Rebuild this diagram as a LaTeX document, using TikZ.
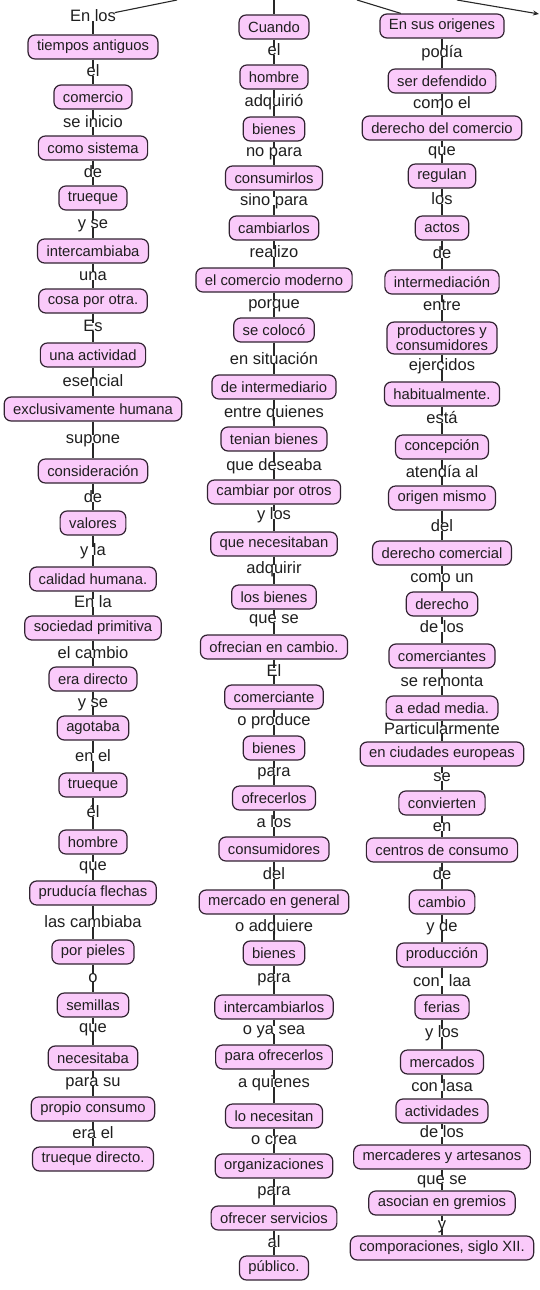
\documentclass[tikz,border=0pt]{standalone}
\usepackage{fontspec}
\setmainfont{Liberation Sans}
\usetikzlibrary{backgrounds,arrows.meta}
\definecolor{cpink}{RGB}{250,202,250}
\definecolor{cedge}{RGB}{50,35,50}
\definecolor{cline}{RGB}{40,40,40}
\newcommand\mkcolumn[3]{%
  \foreach \y/\k/\t [count=\i] in {#3} {%
    \node[\k] (#1\i) at (#2,\y) {\t};
    \ifnum\i>1
      \pgfmathtruncatemacro\p{\i-1}
      \begin{pgfonlayer}{background}
        \draw[conn] (#1\p) -- (#1\i);
      \end{pgfonlayer}
    \fi
  }}
\begin{document}
\begin{tikzpicture}[x=1pt,y=-1pt,
  every node/.style={text=black!88},
  cbox/.style={draw=cedge, fill=cpink, rounded corners=7pt, line width=1.2pt,
    font=\fontsize{14.8}{15}\selectfont,
    inner xsep=9pt, inner ysep=3pt, minimum height=24pt, align=center},
  clab/.style={inner sep=0pt, text height=8.4pt, text depth=0pt,
    font=\fontsize{16.5}{17}\selectfont},
  conn/.style={draw=cline, line width=1.1pt}]
\useasboundingbox (0,0) rectangle (540,1290);
\begin{pgfonlayer}{background}
  \fill[white] (0,0) rectangle (540,1290);
\end{pgfonlayer}
% column 1
\mkcolumn{a}{93}{17/clab/En los, 47/cbox/tiempos antiguos, 72/clab/el, 97/cbox/comercio,
 123/clab/se inicio, 148/cbox/como sistema, 173/clab/de, 198/cbox/trueque, 224/clab/y se,
 251/cbox/intercambiaba, 276/clab/una, 301/cbox/cosa por otra., 327/clab/Es,
 355/cbox/una actividad, 382/clab/esencial, 409/cbox/exclusivamente humana, 439/clab/supone,
 471/cbox/consideración, 498/clab/de, 523/cbox/valores, 551/clab/y la, 579/cbox/calidad humana.,
 603/clab/En la, 628/cbox/sociedad primitiva, 654/clab/el cambio, 679/cbox/era directo,
 703/clab/y se, 728/cbox/agotaba, 757/clab/en el, 785/cbox/trueque, 813/clab/él,
 842/cbox/hombre, 866/clab/que, 893/cbox/pruducía flechas, 923/clab/las cambiaba,
 952/cbox/por pieles, 978/clab/o, 1005/cbox/semillas, 1028/clab/que, 1058/cbox/necesitaba,
 1082/clab/para su, 1109/cbox/propio consumo, 1134/clab/era el, 1159/cbox/trueque directo.}
% column 2
\mkcolumn{b}{274}{27/cbox/Cuando, 51/clab/el, 77/cbox/hombre, 102/clab/adquirió, 129/cbox/bienes,
 152/clab/no para, 178/cbox/consumirlos, 201/clab/sino para, 228/cbox/cambiarlos, 253/clab/realizo,
 280/cbox/el comercio moderno, 304/clab/porque, 330/cbox/se colocó, 360/clab/en situación,
 387/cbox/de intermediario, 413/clab/entre quienes, 439/cbox/tenian bienes, 466/clab/que deseaba,
 492/cbox/cambiar por otros, 515/clab/y los, 544/cbox/que necesitaban, 569/clab/adquirir,
 597/cbox/los bienes, 619/clab/que se, 647/cbox/ofrecian en cambio., 672/clab/El,
 697/cbox/comerciante, 721/clab/o produce, 748/cbox/bienes, 772/clab/para, 798/cbox/ofrecerlos,
 823/clab/a los, 849/cbox/consumidores, 875/clab/del, 902/cbox/mercado en general,
 927/clab/o adquiere, 953/cbox/bienes, 978/clab/para, 1007/cbox/intercambiarlos,
 1030/clab/o ya sea, 1057/cbox/para ofrecerlos, 1083/clab/a quienes, 1116/cbox/lo necesitan,
 1140/clab/o crea, 1166/cbox/organizaciones, 1191/clab/para, 1218/cbox/ofrecer servicios,
 1243/clab/al, 1268/cbox/público.}
% column 3
\mkcolumn{c}{442}{26/cbox/En sus origenes, 53/clab/podía, 81/cbox/ser defendido, 104/clab/como el,
 128/cbox/derecho del comercio, 151/clab/que, 176/cbox/regulan, 200/clab/los, 228/cbox/actos,
 254/clab/de, 282/cbox/intermediación, 306/clab/entre, 338/cbox/{productores y\\consumidores},
 366/clab/ejercidos, 394/cbox/habitualmente., 419/clab/está, 447/cbox/concepción,
 473/clab/atendía al, 498/cbox/origen mismo, 527/clab/del, 553/cbox/derecho comercial,
 578/clab/como un, 604/cbox/derecho, 628/clab/de los, 656/cbox/comerciantes, 682/clab/se remonta,
 708/cbox/a edad media., 730/clab/Particularmente, 754/cbox/en ciudades europeas, 777/clab/se,
 803/cbox/convierten, 827/clab/en, 850/cbox/centros de consumo, 875/clab/de, 902/cbox/cambio,
 927/clab/y de, 955/cbox/producción, 982/clab/con\ \ laa, 1007/cbox/ferias, 1033/clab/y los,
 1062/cbox/mercados, 1087/clab/con lasa, 1111/cbox/actividades, 1133/clab/de los,
 1157/cbox/mercaderes y artesanos, 1180/clab/que se, 1203/cbox/asocian en gremios, 1225/clab/y,
 1248/cbox/{comporaciones, siglo XII.}}
% top connectors from the (cropped) root
\coordinate (t1) at (177,0);
\coordinate (t2) at (274,0);
\coordinate (t3) at (357,0);
\coordinate (t4) at (457,0);
\coordinate (t5) at (539,14);
\draw[conn] (t1) -- (a1);
\draw[conn] (t2) -- (b1);
\draw[conn] (t3) -- (c1);
\draw[conn, -{Stealth[length=6pt,width=5pt]}] (t4) -- (t5);
\end{tikzpicture}
\end{document}
